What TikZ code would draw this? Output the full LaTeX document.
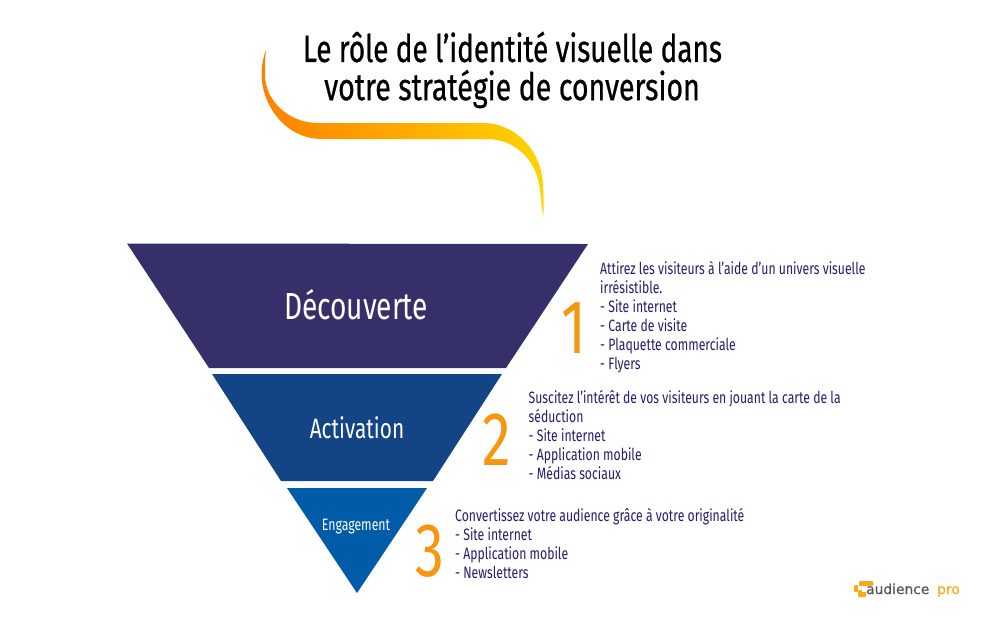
\documentclass[tikz,border=0pt]{standalone}
\usepackage{fontspec}
\setmainfont{Fira Sans}
\newfontfamily\narrowfont[FakeStretch=0.745]{Fira Sans}
\newfontfamily\numfont[FakeStretch=0.76]{Fira Sans}
\newfontfamily\titlefont[FakeStretch=0.75,FakeBold=0.6]{Fira Sans}
\newfontfamily\logofont[FakeBold=0.5]{DejaVu Sans}
\definecolor{funnelA}{HTML}{35306A}
\definecolor{funnelB}{HTML}{124486}
\definecolor{funnelC}{HTML}{005CA8}
\definecolor{numcol}{HTML}{F7960F}
\definecolor{bodycol}{HTML}{2A1C6B}
\definecolor{ribA}{HTML}{FF8000}
\definecolor{ribB}{HTML}{FFD500}
\definecolor{logogray}{HTML}{55555A}
\definecolor{logoorange}{HTML}{FBA91C}
\tikzset{
  titletext/.style={font=\titlefont\fontsize{38}{41}\selectfont,text=black,align=center,inner sep=0pt},
  stagebig/.style={text=white,inner sep=0pt},
  numeral/.style={font=\numfont\fontsize{76}{76}\selectfont,text=numcol,inner sep=0pt},
  bodytext/.style={font=\narrowfont\fontsize{16.4}{19}\selectfont,text=bodycol,align=left,anchor=north west,inner sep=0pt},
}
\begin{document}
\begin{tikzpicture}[x=1pt,y=-1pt]
\useasboundingbox (0,0) rectangle (1000,625);
\fill[white] (0,0) rectangle (1000,625);
% title
\node[titletext,xscale=0.98] (title1) at (512.5,47) {Le rôle de l’identité visuelle dans};
\node[titletext] (title2) at (512,89) {votre stratégie de conversion};
% ribbon
\shade[left color=ribA,right color=ribB]
 (266,50) .. controls (262,60) and (261.5,70) .. (261.7,78)
 .. controls (263,105) and (285,139) .. (322,139)
 -- (487,139)
 .. controls (515,139) and (537,160) .. (540,190)
 .. controls (541,200) and (542,208) .. (543.3,216)
 .. controls (544,205) and (543.5,195) .. (543,186)
 .. controls (542,150) and (515,123) .. (483,123)
 -- (318,123)
 .. controls (288,123) and (265,100) .. (265,75)
 .. controls (265,65) and (265,58) .. (266,50) -- cycle;
% funnel
\fill[funnelA] (127,243.5) -- (588,244) -- (506,368) -- (209,368) -- cycle;
\fill[funnelB] (212,374) -- (502,374) -- (433,481) -- (281,481) -- cycle;
\fill[funnelC] (287,488) -- (427,488) -- (357,593) -- cycle;
\node[stagebig,font=\narrowfont\fontsize{37.7}{38}\selectfont] (decouverte) at (356,305) {Découverte};
\node[stagebig,font=\narrowfont\fontsize{28}{28}\selectfont] (activation) at (357,427.5) {Activation};
\node[stagebig,font=\narrowfont\fontsize{16.5}{17}\selectfont] (engagement) at (356,526.5) {Engagement};
% numerals
\node[numeral] (one) at (574,328) {1};
\node[numeral] (two) at (497,440) {2};
\node[numeral] (three) at (429.5,551) {3};
% texts
\node[bodytext] (textone) at (600,261) {Attirez les visiteurs à l’aide d’un univers visuelle\\irrésistible.\\- Site internet\\- Carte de visite\\- Plaquette commerciale\\- Flyers};
\node[bodytext] (texttwo) at (528.5,390.5) {Suscitez l’intérêt de vos visiteurs en jouant la carte de la\\séduction\\- Site internet\\- Application mobile\\- Médias sociaux};
\node[bodytext] (textthree) at (455,508.5) {Convertissez votre audience grâce à votre originalité\\- Site internet\\- Application mobile\\- Newsletters};
% logo
\fill[logoorange,rounded corners=1pt] (859,581) rectangle (873,586) ;
\fill[logoorange,rounded corners=1pt] (868,581) rectangle (873,585);
\fill[logoorange,rounded corners=1pt] (854,585) rectangle (858,592);
\fill[logoorange,rounded corners=1pt] (858,590) rectangle (866,597);
\fill[white] (862,586) rectangle (866,592);
\node[font=\logofont\fontsize{13.8}{14}\selectfont,text=logogray,anchor=base west,inner sep=0pt] (logoA) at (866,594) {audience};
\node[font=\logofont\fontsize{13.8}{14}\selectfont,text=logoorange,anchor=base west,inner sep=0pt] (logoB) at (937,594) {pro};
\end{tikzpicture}
\end{document}
